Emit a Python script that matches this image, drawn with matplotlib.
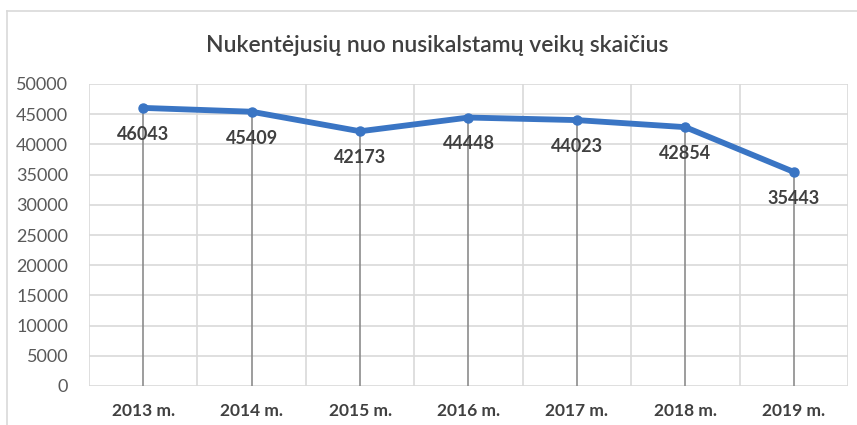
import matplotlib
matplotlib.use("Agg")
import matplotlib.pyplot as plt
from matplotlib.lines import Line2D

years = ["2013 m.", "2014 m.", "2015 m.", "2016 m.", "2017 m.", "2018 m.", "2019 m."]
values = [46043, 45409, 42173, 44448, 44023, 42854, 35443]
yticks = [0, 5000, 10000, 15000, 20000, 25000, 30000, 35000, 40000, 45000, 50000]
title = "Nukentėjusių nuo nusikalstamų veikų skaičius"

plt.rcParams['font.family'] = ['Lato', 'DejaVu Sans']

fig = plt.figure(figsize=(8.57, 4.25), dpi=100)
ax = fig.add_axes([89/857, 1-386/425, (848-89)/857, (386-84)/425])

x = list(range(len(years)))
grid_c = "#d9d9d9"
ax.set_xlim(-0.5, len(years) - 0.5)
ax.set_ylim(0, 50000)
ax.set_yticks(yticks)
ax.set_yticklabels([str(v) for v in yticks], fontsize=13, color="#595959")
ax.set_xticks(x)
ax.set_xticklabels(years, fontsize=12.5, color="#404040", fontweight="bold")
ax.tick_params(axis="both", length=0)
ax.tick_params(axis="y", pad=15)
ax.tick_params(axis="x", pad=12)

for v in yticks:
    ax.axhline(v, color=grid_c, lw=1.2, zorder=0)
for b in [i - 0.5 for i in range(len(years) + 1)]:
    ax.axvline(b, color=grid_c, lw=1.2, zorder=0)
for s in ax.spines.values():
    s.set_visible(False)

ax.vlines(x, 0, values, color="#8c8c8c", lw=1.2, zorder=1)
ax.plot(x, values, color="#3a75c4", lw=4.2, marker="o", markersize=6.5,
        solid_joinstyle="round", zorder=3)

for xi, v in zip(x, values):
    ax.annotate(str(v), (xi, v), xytext=(0, -19), textcoords="offset points",
                ha="center", va="center", fontsize=13, fontweight="bold",
                color="#404040", zorder=4)

fig.text(437/857, 1-45/425, title, ha="center", va="center", fontsize=16.5,
         color="#404040", fontweight="semibold")

# chart border (top and left visible)
fig.add_artist(Line2D([7/857, 1], [1-11/425, 1-11/425], transform=fig.transFigure,
                      color=grid_c, lw=1.2))
fig.add_artist(Line2D([7/857, 7/857], [0, 1-11/425], transform=fig.transFigure,
                      color=grid_c, lw=1.2))

fig.savefig("out.png", dpi=100)
